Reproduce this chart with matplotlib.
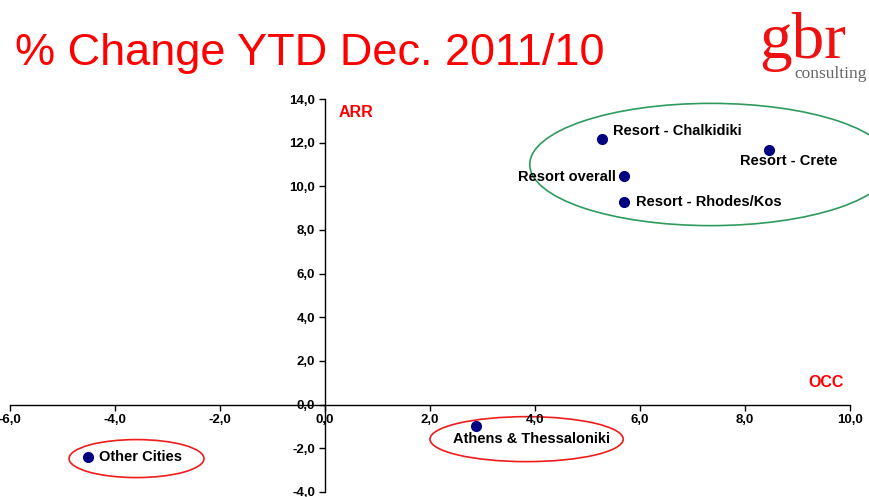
import matplotlib
matplotlib.use("Agg")
import matplotlib.pyplot as plt
from matplotlib.patches import Ellipse
from matplotlib.ticker import FuncFormatter

# data (% change OCC vs ARR)
names = ["Resort - Chalkidiki", "Resort - Crete", "Resort overall",
         "Resort - Rhodes/Kos", "Athens & Thessaloniki", "Other Cities"]
occ = [5.28, 8.46, 5.70, 5.70, 2.88, -4.51]
arr = [12.17, 11.66, 10.48, 9.29, -1.00, -2.42]

# label offsets (pixels) and alignment
offsets = [(11, 8), (-29, -11), (-8, -1), (12, 0), (-23, -13), (11, 0)]
aligns = ["left", "left", "right", "left", "left", "left"]

x_ticks = [-6, -4, -2, 0, 2, 4, 6, 8, 10]
y_ticks = [-4, -2, 0, 2, 4, 6, 8, 10, 12, 14]

plt.rcParams['font.family'] = ['Liberation Sans', 'DejaVu Sans']

fig = plt.figure(figsize=(8.7, 4.97), dpi=100)
ax = fig.add_axes([0.0115, 0.0101, 0.9655, 0.7907])
ax.set_xlim(-6, 10)
ax.set_ylim(-4, 14)

ax.spines['left'].set_position(('data', 0))
ax.spines['bottom'].set_position(('data', 0))
ax.spines['top'].set_visible(False)
ax.spines['right'].set_visible(False)
ax.spines['left'].set_linewidth(1.0)
ax.spines['bottom'].set_linewidth(1.0)

ax.set_xticks(x_ticks)
ax.set_yticks(y_ticks)
fmt = FuncFormatter(lambda v, p: ("%.1f" % v).replace(".", ","))
ax.xaxis.set_major_formatter(fmt)
ax.yaxis.set_major_formatter(fmt)
ax.tick_params(direction='out', length=4, width=1, labelsize=9.5, pad=3)
for lab in ax.get_xticklabels() + ax.get_yticklabels():
    lab.set_fontweight('bold')

ax.plot(occ, arr, 'o', color='#000080', markersize=7, linestyle='none', zorder=3)

for n, x, y, off, ha in zip(names, occ, arr, offsets, aligns):
    ax.annotate(n, (x, y), xytext=off, textcoords='offset pixels',
                ha=ha, va='center', fontsize=10.5, fontweight='bold', color='black')

# group ellipses
ax.add_patch(Ellipse((7.35, 11.0), 6.9, 5.6, fill=False, edgecolor='#2e9a5e',
                     linewidth=1.2, clip_on=False))
ax.add_patch(Ellipse((3.84, -1.58), 3.68, 2.06, fill=False, edgecolor='#ee1c1c',
                     linewidth=1.2, clip_on=False))
ax.add_patch(Ellipse((-3.59, -2.47), 2.57, 1.74, fill=False, edgecolor='#ee1c1c',
                     linewidth=1.2, clip_on=False))

ax.text(0.25, 13.36, "ARR", color='#ff0000', fontsize=11.5, fontweight='bold',
        ha='left', va='center')
ax.text(9.2, 1.0, "OCC", color='#ff0000', fontsize=11.5, fontweight='bold',
        ha='left', va='center')

# title and logo
fig.text(15 / 870, 1 - 53 / 497, "% Change YTD Dec. 2011/10", color='#ff0000',
         fontsize=32.5, ha='left', va='center',
         family=['Liberation Sans Narrow', 'Liberation Sans', 'DejaVu Sans'])
fig.text(803 / 870, 1 - 58 / 497, "gbr", color='#ee1111', fontsize=47,
         family=['Liberation Serif', 'DejaVu Serif'], ha='center', va='baseline')
fig.text(794 / 870, 1 - 74 / 497, "consulting", color='#666666', fontsize=12.5,
         family=['Liberation Serif', 'DejaVu Serif'], ha='left', va='center')

fig.savefig("out.png", dpi=100)
